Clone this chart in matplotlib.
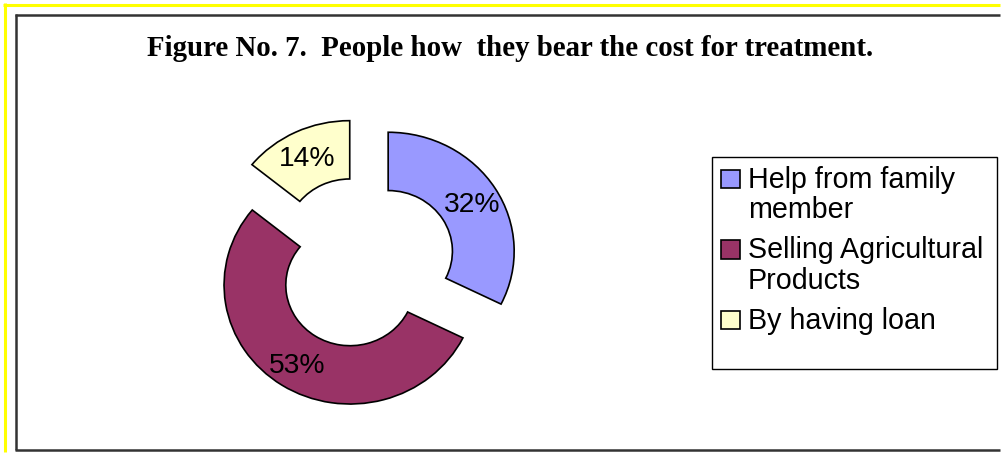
import matplotlib.pyplot as plt
from matplotlib.lines import Line2D
from matplotlib.patches import Rectangle

labels = ["Help from family\nmember", "Selling Agricultural\nProducts", "By having loan"]
values = [32, 53, 14]
explode = [0.235, 0.19, 0.245]
colors = ["#9999FF", "#993366", "#FFFFCC"]
title = "Figure No. 7.  People how  they bear the cost for treatment."

W, H = 1002, 453
fig = plt.figure(figsize=(W / 100, H / 100), dpi=100)
ax = fig.add_axes([0, 0, 1, 1])

total = sum(values)
wedges, texts, autotexts = ax.pie(
    values, explode=explode, colors=colors, startangle=90, counterclock=False,
    autopct=lambda p: "%d%%" % round(p * total / 100), pctdistance=0.78, radius=1.0,
    wedgeprops=dict(width=0.49, edgecolor="black", linewidth=1.2),
    textprops=dict(fontsize=20.3, family="Liberation Sans", color="black"))
for t in autotexts:
    t.set_va("center_baseline")

# pie centre at pixel (363, 266), rx=126 px, ry=119 px
cx, cy, rx, ry = 363, 266, 126, 119
ax.set_aspect("auto")
ax.set_xlim(-cx / rx, (W - cx) / rx)
ax.set_ylim((cy - H) / ry, cy / ry)
ax.axis("off")


def fx(px):
    return px / W


def fy(py):
    return 1 - py / H


def seg(x0, y0, x1, y1, **kw):
    fig.add_artist(Line2D([fx(x0), fx(x1)], [fy(y0), fy(y1)],
                          transform=fig.transFigure, solid_capstyle="butt", **kw))


# outer yellow frame (left and top) and inner black frame
seg(3.4, 4.5, W - 2, 4.5, color="#FFFF00", linewidth=2.2)
seg(4.5, 3.4, 4.5, H - 0.6, color="#FFFF00", linewidth=2.2)
seg(14.6, 14.5, W - 2, 14.5, color="#333333", linewidth=1.8)
seg(15.5, 13.6, 15.5, 450.4, color="#333333", linewidth=1.8)
seg(14.6, 449.5, W - 2, 449.5, color="#333333", linewidth=1.8)

fig.text(fx(510.5), fy(56), title, ha="center", va="baseline",
         fontsize=20.8, fontweight="bold", family="Liberation Serif")

# legend box drawn like the Excel one, with text lines on fixed baselines
fig.add_artist(Rectangle((fx(712), fy(368.5)), fx(996.5) - fx(712), fy(157.5) - fy(368.5),
                         transform=fig.transFigure, fill=False, edgecolor="black", linewidth=1.0))
baseline = 188
line_step = 30.5
entry_gap = 9.5
for lab, col in zip(labels, colors):
    fig.add_artist(Rectangle((fx(721), fy(baseline)), fx(740) - fx(721), fy(170) - fy(188),
                             transform=fig.transFigure, facecolor=col,
                             edgecolor="black", linewidth=1.2))
    for line in lab.split("\n"):
        fig.text(fx(748), fy(baseline), line, ha="left", va="baseline",
                 fontsize=20.6, family="Liberation Sans")
        baseline += line_step
    baseline += entry_gap

fig.savefig("out.png", dpi=100)
